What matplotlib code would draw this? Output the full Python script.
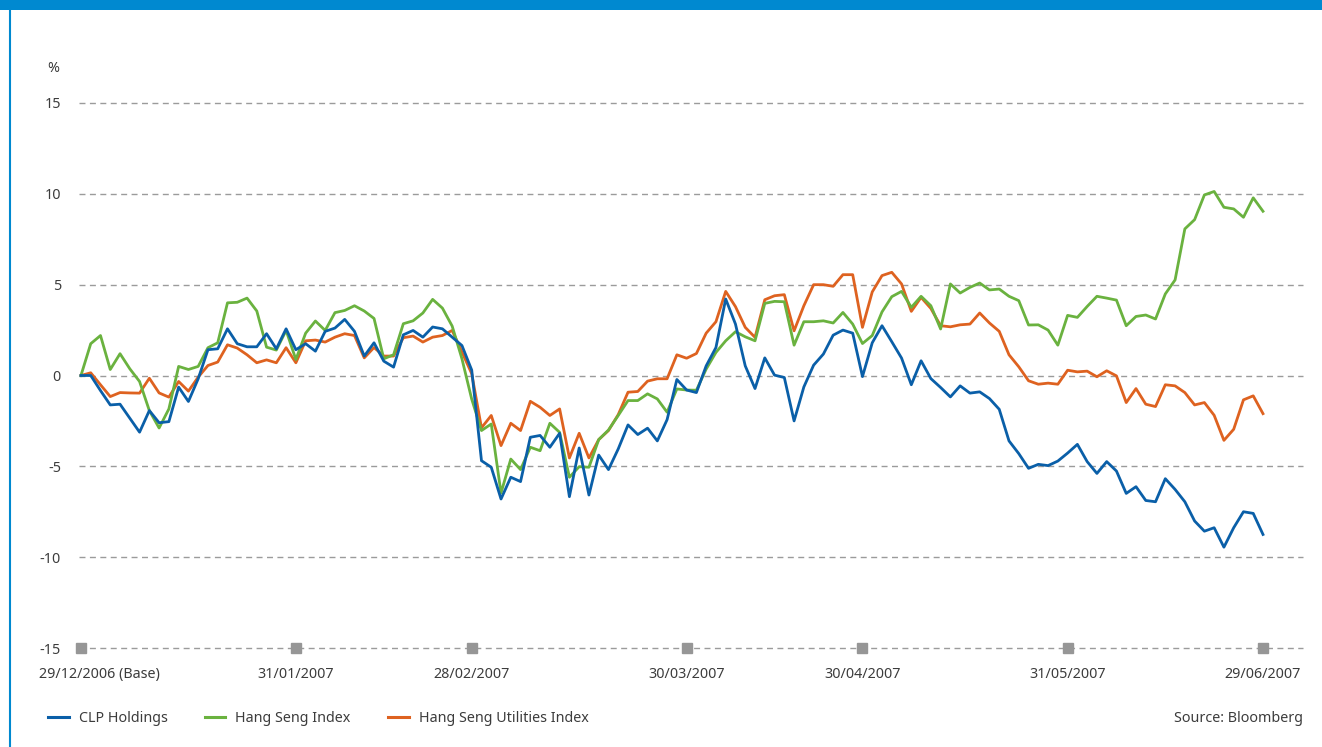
import matplotlib.pyplot as plt
from matplotlib.lines import Line2D
from matplotlib.patches import Rectangle

plt.rcParams['font.family'] = ['Noto Sans', 'DejaVu Sans']

# trading-day index 0 = 29/12/2006 base, values are % change from base
clp = [0, 0, -0.83, -1.62, -1.58, -2.35, -3.12, -1.93, -2.6, -2.54,
       -0.64, -1.43, -0.18, 1.42, 1.47, 2.57, 1.75, 1.58, 1.58, 2.3,
       1.47, 2.57, 1.42, 1.75, 1.34, 2.43, 2.61, 3.09, 2.43, 1.07,
       1.8, 0.79, 0.46, 2.24, 2.48, 2.11, 2.67, 2.57, 2.11, 1.65,
       0.3, -4.69, -5.05, -6.8, -5.6, -5.84, -3.4, -3.3, -3.95, -3.18,
       -6.67, -3.99, -6.58, -4.38, -5.18, -4.04, -2.72, -3.25, -2.9, -3.6,
       -2.43, -0.22, -0.8, -0.94, 0.53, 1.54, 4.21, 2.83, 0.53, -0.72,
       0.97, 0.02, -0.11, -2.5, -0.63, 0.57, 1.18, 2.22, 2.5, 2.33,
       -0.06, 1.8, 2.74, 1.86, 0.96, -0.51, 0.81, -0.17, -0.66, -1.18,
       -0.57, -0.97, -0.9, -1.27, -1.86, -3.6, -4.3, -5.11, -4.89, -4.96,
       -4.71, -4.27, -3.79, -4.74, -5.39, -4.74, -5.26, -6.49, -6.12, -6.88,
       -6.95, -5.68, -6.27, -6.95, -8.01, -8.57, -8.38, -9.45, -8.38, -7.5,
       -7.59, -8.75]

hsi = [0, 1.75, 2.2, 0.33, 1.2, 0.37, -0.33, -1.93, -2.89, -1.84,
       0.5, 0.33, 0.5, 1.53, 1.8, 4.0, 4.03, 4.26, 3.55, 1.56,
       1.4, 2.48, 0.88, 2.33, 3.0, 2.48, 3.46, 3.58, 3.84, 3.55,
       3.14, 0.92, 1.14, 2.85, 3.01, 3.44, 4.19, 3.71, 2.72, 0.92,
       -1.3, -3.03, -2.67, -6.47, -4.6, -5.18, -3.95, -4.14, -2.63, -3.13,
       -5.6, -5.02, -5.05, -3.53, -3.0, -2.2, -1.38, -1.38, -1.01, -1.29,
       -2.02, -0.74, -0.8, -0.81, 0.35, 1.27, 1.91, 2.41, 2.13, 1.91,
       3.97, 4.08, 4.06, 1.67, 2.96, 2.96, 3.01, 2.89, 3.47, 2.83,
       1.76, 2.2, 3.5, 4.34, 4.63, 3.75, 4.36, 3.84, 2.56, 5.04,
       4.54, 4.85, 5.09, 4.71, 4.76, 4.36, 4.12, 2.78, 2.79, 2.5,
       1.67, 3.31, 3.2, 3.8, 4.36, 4.26, 4.15, 2.74, 3.25, 3.33,
       3.11, 4.49, 5.26, 8.07, 8.58, 9.94, 10.13, 9.26, 9.17, 8.71,
       9.78, 9.04]

hsu = [0, 0.15, -0.51, -1.16, -0.94, -0.96, -0.97, -0.15, -0.96, -1.19,
       -0.33, -0.86, -0.09, 0.55, 0.74, 1.69, 1.51, 1.14, 0.7, 0.86,
       0.7, 1.53, 0.7, 1.91, 1.95, 1.84, 2.11, 2.3, 2.2, 0.97,
       1.54, 1.07, 1.07, 2.08, 2.17, 1.84, 2.11, 2.2, 2.48, 1.29,
       0.1, -2.88, -2.2, -3.86, -2.63, -3.03, -1.42, -1.75, -2.2, -1.84,
       -4.54, -3.18, -4.54, -3.53, -3.03, -2.15, -0.92, -0.88, -0.31, -0.18,
       -0.18, 1.14, 0.95, 1.21, 2.33, 2.96, 4.63, 3.79, 2.65, 2.1,
       4.17, 4.39, 4.45, 2.46, 3.84, 5.0, 5.0, 4.91, 5.55, 5.55,
       2.65, 4.6, 5.5, 5.68, 5.04, 3.53, 4.3, 3.69, 2.74, 2.68,
       2.79, 2.83, 3.44, 2.89, 2.43, 1.14, 0.48, -0.29, -0.48, -0.42,
       -0.48, 0.29, 0.2, 0.24, -0.07, 0.26, -0.02, -1.49, -0.72, -1.58,
       -1.71, -0.51, -0.57, -0.94, -1.62, -1.49, -2.19, -3.57, -2.96, -1.34,
       -1.12, -2.1]

tick_idx = [0, 22, 40, 62, 80, 101, 121]
tick_labels = ['29/12/2006 (Base)', '31/01/2007', '28/02/2007', '30/03/2007',
               '30/04/2007', '31/05/2007', '29/06/2007']
y_ticks = [-15, -10, -5, 0, 5, 10, 15]

BLUE = '#0a5fa8'
GREEN = '#6ab23f'
ORANGE = '#de6220'
TEXT = '#3c3c3c'
GRID = '#9b9b9b'
FS = 10.3

fig = plt.figure(figsize=(13.22, 7.47), dpi=100)
fig.patch.set_facecolor('white')

# header bar and left rule
fig.patches.append(Rectangle((0, 1 - 10 / 747), 1, 10 / 747, transform=fig.transFigure,
                             facecolor='#0089d0', edgecolor='none', zorder=0))
fig.lines.append(Line2D([10 / 1322, 10 / 1322], [0, 1], transform=fig.transFigure,
                        color='#0089d0', lw=1.5))

ax = fig.add_axes([79 / 1322, 99 / 747, 1224 / 1322, 545 / 747])
x = list(range(len(clp)))

for yv in y_ticks:
    ax.axhline(yv, color=GRID, lw=1.0, dashes=(4.3, 3.2), zorder=1, clip_on=False)

ax.plot(x, hsu, color=ORANGE, lw=2.0, zorder=3)
ax.plot(x, hsi, color=GREEN, lw=2.0, zorder=3)
ax.plot(x, clp, color=BLUE, lw=2.0, zorder=4)

# square markers at the month ends along the bottom line
ax.plot(tick_idx, [-15] * len(tick_idx), 's', color='#969696', ms=7.5,
        clip_on=False, zorder=5)

ax.set_ylim(-15, 15)
ax.set_xlim(-0.2, 121 + 40 * 121 / 1182)
ax.set_yticks(y_ticks)
ax.set_yticklabels([str(v) for v in y_ticks])
ax.tick_params(axis='y', length=0, pad=13, labelsize=FS, labelcolor=TEXT)
ax.set_xticks([])
for s in ax.spines.values():
    s.set_visible(False)

for i, (pos, lab) in enumerate(zip(tick_idx, tick_labels)):
    dx = 13 if i == 0 else 0
    ax.annotate(lab, xy=(pos, -15), xytext=(dx, -19), textcoords='offset points',
                ha='center', va='center', fontsize=FS, color=TEXT,
                annotation_clip=False)

fig.text(53 / 1322, 1 - 68 / 747, '%', ha='center', va='center',
         fontsize=FS, color=TEXT)

handles = [Line2D([], [], color=BLUE, lw=2.2),
           Line2D([], [], color=GREEN, lw=2.2),
           Line2D([], [], color=ORANGE, lw=2.2)]
fig.legend(handles, ['CLP Holdings', 'Hang Seng Index', 'Hang Seng Utilities Index'],
           loc='center left', bbox_to_anchor=(35 / 1322, 1 - 719 / 747), ncol=3,
           frameon=False, fontsize=FS, handlelength=1.45, handletextpad=0.7,
           columnspacing=2.6, labelcolor=TEXT)

fig.text(1303 / 1322, 1 - 719 / 747, 'Source: Bloomberg', ha='right', va='center',
         fontsize=FS, color=TEXT)

fig.savefig('out.png', dpi=100)
